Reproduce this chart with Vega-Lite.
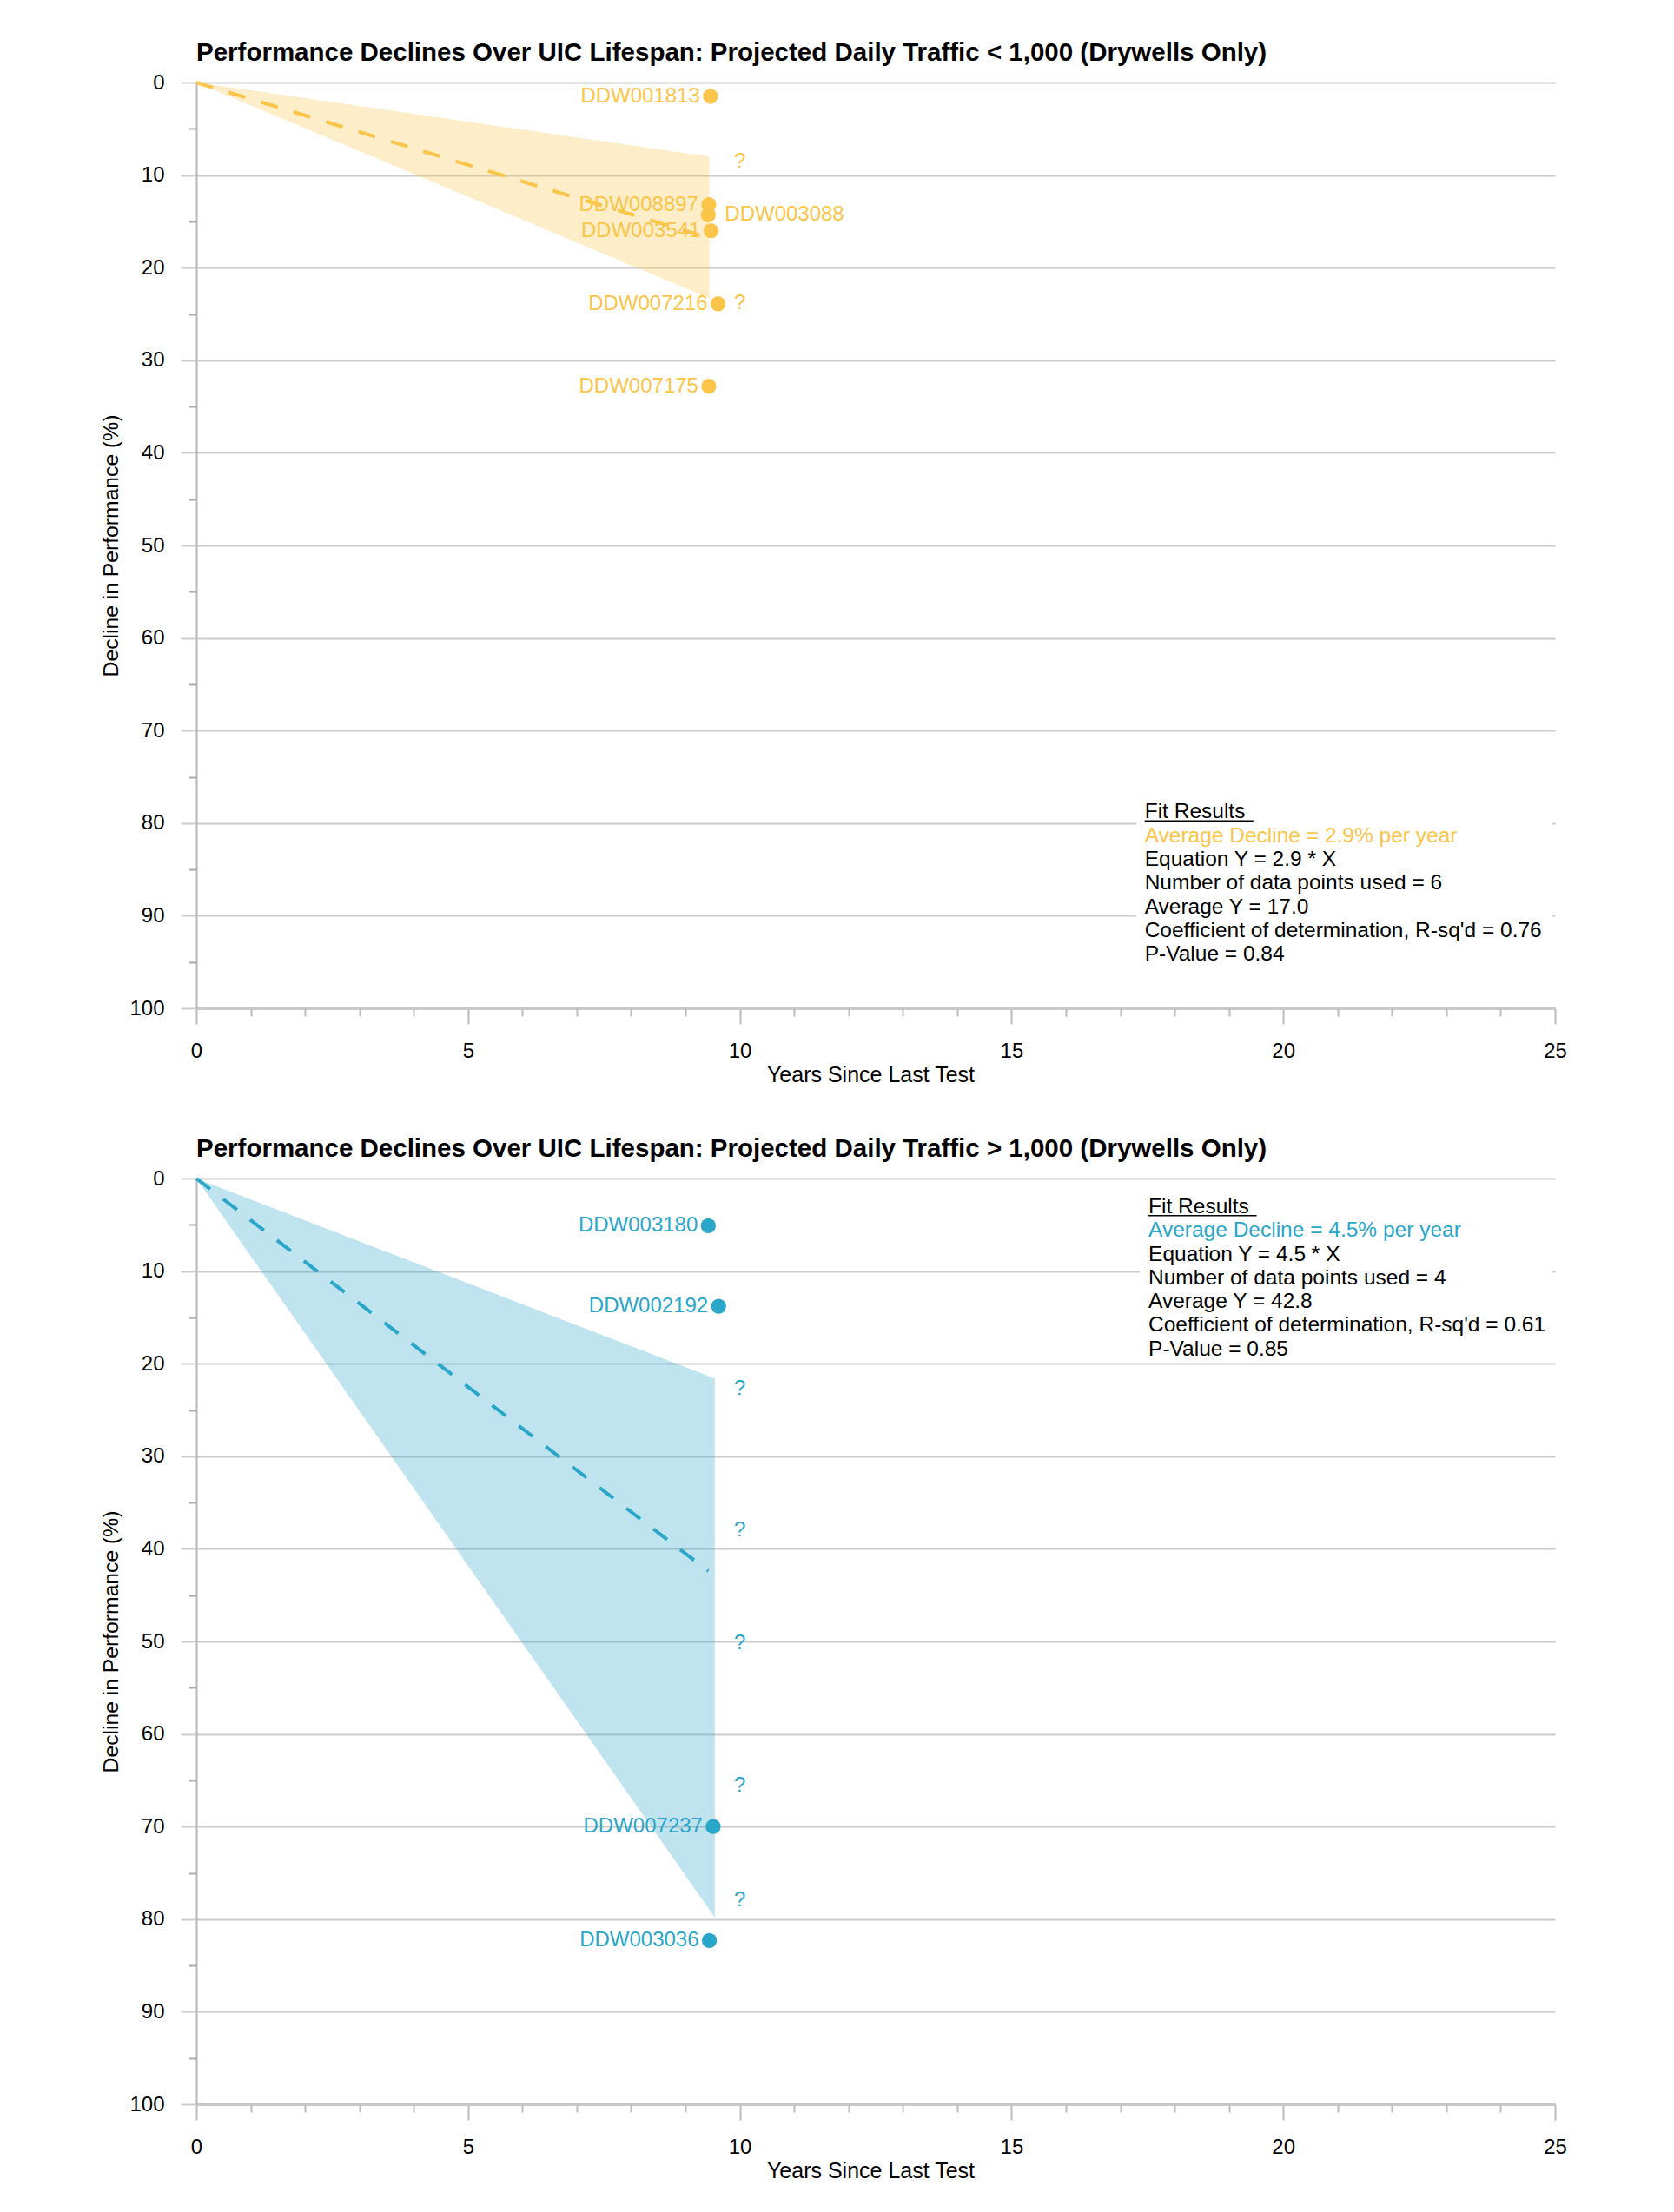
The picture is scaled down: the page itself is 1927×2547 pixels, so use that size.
{
  "$schema": "https://vega.github.io/schema/vega-lite/v6.json",
  "padding": {"left": 115, "top": 45, "right": 5, "bottom": 5},
  "background": "white",
  "config": {
    "font": "Liberation Sans",
    "view": {"stroke": null},
    "axis": {"labelFont": "Liberation Sans", "titleFont": "Liberation Sans", "labelColor": "#000", "titleColor": "#000", "titleFontWeight": "normal"}
  },
  "spacing": 57,
  "datasets": {
    "bandTop": [{"x": 0, "lo": 0, "hi": 0}, {"x": 9.44, "lo": 8.0, "hi": 23.3}],
    "trendTop": [{"x": 0, "y": 0}, {"x": 9.44, "y": 16.8}],
    "ptsTop": [
      {"id": "DDW001813", "x": 9.46, "y": 1.5, "side": "left"},
      {"id": "DDW008897", "x": 9.43, "y": 13.2, "side": "left"},
      {"id": "DDW003088", "x": 9.42, "y": 14.3, "side": "right"},
      {"id": "DDW003541", "x": 9.47, "y": 16.0, "side": "left"},
      {"id": "DDW007216", "x": 9.6, "y": 23.9, "side": "left"},
      {"id": "DDW007175", "x": 9.43, "y": 32.8, "side": "left"}
    ],
    "qTop": [{"x": 10, "y": 8.5}, {"x": 10, "y": 23.8}],
    "boxTop": [{"x": 17.3, "x2": 24.95, "y": 77.5, "y2": 96}],
    "fitTop": [{"x": 17.45, "y": 79.5}],
    "ulTop": [{"x": 17.45, "x2": 19.45, "y": 79.75}],
    "bandBot": [{"x": 0, "lo": 0, "hi": 0}, {"x": 9.54, "lo": 21.6, "hi": 79.8}],
    "trendBot": [{"x": 0, "y": 0}, {"x": 9.42, "y": 42.4}],
    "ptsBot": [
      {"id": "DDW003180", "x": 9.42, "y": 5.1, "side": "left"},
      {"id": "DDW002192", "x": 9.61, "y": 13.8, "side": "left"},
      {"id": "DDW007237", "x": 9.51, "y": 70.0, "side": "left"},
      {"id": "DDW003036", "x": 9.44, "y": 82.3, "side": "left"}
    ],
    "qBot": [{"x": 10, "y": 22.7}, {"x": 10, "y": 38.0}, {"x": 10, "y": 50.2}, {"x": 10, "y": 65.6}, {"x": 10, "y": 78.0}],
    "boxBot": [{"x": 17.36, "x2": 24.95, "y": 1.0, "y2": 19.6}],
    "fitBot": [{"x": 17.52, "y": 3.75}],
    "ulBot": [{"x": 17.52, "x2": 19.51, "y": 4.0}]
  },
  "vconcat": [
    {
      "width": 1564,
      "height": 1066,
      "title": {"text": "Performance Declines Over UIC Lifespan: Projected Daily Traffic < 1,000 (Drywells Only)", "anchor": "start", "frame": "group", "fontSize": 29.5, "fontWeight": "bold", "font": "Liberation Sans", "color": "#000", "offset": 7},
      "resolve": {"axis": {"x": "independent", "y": "independent"}},
      "layer": [
        {
          "data": {"name": "boxTop"},
          "mark": {"type": "rect", "fill": "white", "strokeWidth": 0},
          "encoding": {
            "x": {"field": "x", "type": "quantitative", "scale": {"domain": [0, 25], "nice": false, "zero": false}, "axis": null},
            "x2": {"field": "x2"},
            "y": {"field": "y", "type": "quantitative", "scale": {"domain": [0, 100], "reverse": true, "nice": false}, "axis": null},
            "y2": {"field": "y2"}
          }
        },
        {
          "data": {"name": "bandTop"},
          "mark": {"type": "area", "color": "#FAC548", "opacity": 0.3},
          "encoding": {
            "x": {"field": "x", "type": "quantitative", "scale": {"domain": [0, 25], "nice": false, "zero": false},
              "axis": {"values": [0, 5, 10, 15, 20, 25], "orient": "bottom", "title": "Years Since Last Test", "titleX": 776, "titleFontSize": 25, "titlePadding": 3, "labelFontSize": 24, "labelPadding": 19, "tickSize": 18, "tickColor": "#bbb", "tickWidth": 2, "domainColor": "#c8c8c8", "domainWidth": 3, "grid": false, "labelFlush": false, "labelOverlap": false}},
            "y": {"field": "lo", "type": "quantitative", "scale": {"domain": [0, 100], "reverse": true, "nice": false},
              "axis": {"values": [0, 10, 20, 30, 40, 50, 60, 70, 80, 90, 100], "orient": "left", "title": "Decline in Performance (%)", "titleFontSize": 24.7, "titlePadding": 8, "labelFontSize": 24, "labelPadding": 19, "tickSize": 18, "tickColor": "#ccc", "tickWidth": 2, "domainColor": "#b8b8b8", "domainWidth": 2, "grid": true, "gridColor": "#ccc", "gridWidth": 2, "labelFlush": false, "labelOverlap": false}},
            "y2": {"field": "hi"}
          }
        },
        {
          "data": {"name": "trendTop"},
          "mark": {"type": "line", "color": "#FAC548", "strokeWidth": 4, "strokeDash": [20, 19]},
          "encoding": {
            "x": {"field": "x", "type": "quantitative", "scale": {"domain": [0, 25], "nice": false, "zero": false},
              "axis": {"values": [1, 2, 3, 4, 6, 7, 8, 9, 11, 12, 13, 14, 16, 17, 18, 19, 21, 22, 23, 24], "orient": "bottom", "title": null, "labels": false, "domain": false, "grid": false, "tickSize": 9, "tickColor": "#bbb", "tickWidth": 2}},
            "y": {"field": "y", "type": "quantitative", "scale": {"domain": [0, 100], "reverse": true, "nice": false},
              "axis": {"values": [5, 15, 25, 35, 45, 55, 65, 75, 85, 95], "orient": "left", "title": null, "labels": false, "domain": false, "grid": false, "tickSize": 9, "tickColor": "#aaa", "tickWidth": 2}}
          }
        },
        {
          "data": {"name": "ptsTop"},
          "mark": {"type": "circle", "color": "#FAC548", "size": 300, "opacity": 1},
          "encoding": {
            "x": {"field": "x", "type": "quantitative", "scale": {"domain": [0, 25], "nice": false, "zero": false}, "axis": null},
            "y": {"field": "y", "type": "quantitative", "scale": {"domain": [0, 100], "reverse": true, "nice": false}, "axis": null}
          }
        },
        {
          "data": {"name": "ptsTop"},
          "transform": [{"filter": {"field": "side", "equal": "left"}}],
          "mark": {"type": "text", "color": "#FAC548", "align": "right", "baseline": "middle", "dx": -12, "fontSize": 24},
          "encoding": {
            "x": {"field": "x", "type": "quantitative", "scale": {"domain": [0, 25], "nice": false, "zero": false}, "axis": null},
            "y": {"field": "y", "type": "quantitative", "scale": {"domain": [0, 100], "reverse": true, "nice": false}, "axis": null},
            "text": {"field": "id"}
          }
        },
        {
          "data": {"name": "ptsTop"},
          "transform": [{"filter": {"field": "side", "equal": "right"}}],
          "mark": {"type": "text", "color": "#FAC548", "align": "left", "baseline": "middle", "dx": 19, "fontSize": 24},
          "encoding": {
            "x": {"field": "x", "type": "quantitative", "scale": {"domain": [0, 25], "nice": false, "zero": false}, "axis": null},
            "y": {"field": "y", "type": "quantitative", "scale": {"domain": [0, 100], "reverse": true, "nice": false}, "axis": null},
            "text": {"field": "id"}
          }
        },
        {
          "data": {"name": "qTop"},
          "mark": {"type": "text", "color": "#FAC548", "align": "center", "baseline": "middle", "fontSize": 24},
          "encoding": {
            "x": {"field": "x", "type": "quantitative", "scale": {"domain": [0, 25], "nice": false, "zero": false}, "axis": null},
            "y": {"field": "y", "type": "quantitative", "scale": {"domain": [0, 100], "reverse": true, "nice": false}, "axis": null},
            "text": {"value": "?"}
          }
        },
        {
          "data": {"name": "fitTop"},
          "mark": {"type": "text", "color": "#000", "align": "left", "baseline": "alphabetic", "fontSize": 24.5},
          "encoding": {
            "x": {"field": "x", "type": "quantitative", "scale": {"domain": [0, 25], "nice": false, "zero": false}, "axis": null},
            "y": {"field": "y", "type": "quantitative", "scale": {"domain": [0, 100], "reverse": true, "nice": false}, "axis": null},
            "text": {"value": "Fit Results "}
          }
        },
        {
          "data": {"name": "fitTop"},
          "mark": {"type": "text", "color": "#FAC548", "align": "left", "baseline": "alphabetic", "fontSize": 24.5, "dy": 27.3},
          "encoding": {
            "x": {"field": "x", "type": "quantitative", "scale": {"domain": [0, 25], "nice": false, "zero": false}, "axis": null},
            "y": {"field": "y", "type": "quantitative", "scale": {"domain": [0, 100], "reverse": true, "nice": false}, "axis": null},
            "text": {"value": "Average Decline = 2.9% per year"}
          }
        },
        {
          "data": {"name": "fitTop"},
          "mark": {"type": "text", "color": "#000", "align": "left", "baseline": "alphabetic", "fontSize": 24.5, "lineHeight": 27.3, "dy": 54.6},
          "encoding": {
            "x": {"field": "x", "type": "quantitative", "scale": {"domain": [0, 25], "nice": false, "zero": false}, "axis": null},
            "y": {"field": "y", "type": "quantitative", "scale": {"domain": [0, 100], "reverse": true, "nice": false}, "axis": null},
            "text": {"value": ["Equation Y = 2.9 * X", "Number of data points used = 6", "Average Y = 17.0", "Coefficient of determination, R-sq'd = 0.76", "P-Value = 0.84"]}
          }
        },
        {
          "data": {"name": "ulTop"},
          "mark": {"type": "rule", "color": "#000", "strokeWidth": 1.5},
          "encoding": {
            "x": {"field": "x", "type": "quantitative", "scale": {"domain": [0, 25], "nice": false, "zero": false}, "axis": null},
            "x2": {"field": "x2"},
            "y": {"field": "y", "type": "quantitative", "scale": {"domain": [0, 100], "reverse": true, "nice": false}, "axis": null}
          }
        }
      ]
    },
    {
      "width": 1564,
      "height": 1066,
      "title": {"text": "Performance Declines Over UIC Lifespan: Projected Daily Traffic > 1,000 (Drywells Only)", "anchor": "start", "frame": "group", "fontSize": 29.5, "fontWeight": "bold", "font": "Liberation Sans", "color": "#000", "offset": 7},
      "resolve": {"axis": {"x": "independent", "y": "independent"}},
      "layer": [
        {
          "data": {"name": "boxBot"},
          "mark": {"type": "rect", "fill": "white", "strokeWidth": 0},
          "encoding": {
            "x": {"field": "x", "type": "quantitative", "scale": {"domain": [0, 25], "nice": false, "zero": false}, "axis": null},
            "x2": {"field": "x2"},
            "y": {"field": "y", "type": "quantitative", "scale": {"domain": [0, 100], "reverse": true, "nice": false}, "axis": null},
            "y2": {"field": "y2"}
          }
        },
        {
          "data": {"name": "bandBot"},
          "mark": {"type": "area", "color": "#2AA6C9", "opacity": 0.3},
          "encoding": {
            "x": {"field": "x", "type": "quantitative", "scale": {"domain": [0, 25], "nice": false, "zero": false},
              "axis": {"values": [0, 5, 10, 15, 20, 25], "orient": "bottom", "title": "Years Since Last Test", "titleX": 776, "titleFontSize": 25, "titlePadding": 3, "labelFontSize": 24, "labelPadding": 19, "tickSize": 18, "tickColor": "#bbb", "tickWidth": 2, "domainColor": "#c8c8c8", "domainWidth": 3, "grid": false, "labelFlush": false, "labelOverlap": false}},
            "y": {"field": "lo", "type": "quantitative", "scale": {"domain": [0, 100], "reverse": true, "nice": false},
              "axis": {"values": [0, 10, 20, 30, 40, 50, 60, 70, 80, 90, 100], "orient": "left", "title": "Decline in Performance (%)", "titleFontSize": 24.7, "titlePadding": 8, "labelFontSize": 24, "labelPadding": 19, "tickSize": 18, "tickColor": "#ccc", "tickWidth": 2, "domainColor": "#b8b8b8", "domainWidth": 2, "grid": true, "gridColor": "#ccc", "gridWidth": 2, "labelFlush": false, "labelOverlap": false}},
            "y2": {"field": "hi"}
          }
        },
        {
          "data": {"name": "trendBot"},
          "mark": {"type": "line", "color": "#2AA6C9", "strokeWidth": 4, "strokeDash": [20, 19]},
          "encoding": {
            "x": {"field": "x", "type": "quantitative", "scale": {"domain": [0, 25], "nice": false, "zero": false},
              "axis": {"values": [1, 2, 3, 4, 6, 7, 8, 9, 11, 12, 13, 14, 16, 17, 18, 19, 21, 22, 23, 24], "orient": "bottom", "title": null, "labels": false, "domain": false, "grid": false, "tickSize": 9, "tickColor": "#bbb", "tickWidth": 2}},
            "y": {"field": "y", "type": "quantitative", "scale": {"domain": [0, 100], "reverse": true, "nice": false},
              "axis": {"values": [5, 15, 25, 35, 45, 55, 65, 75, 85, 95], "orient": "left", "title": null, "labels": false, "domain": false, "grid": false, "tickSize": 9, "tickColor": "#aaa", "tickWidth": 2}}
          }
        },
        {
          "data": {"name": "ptsBot"},
          "mark": {"type": "circle", "color": "#2AA6C9", "size": 300, "opacity": 1},
          "encoding": {
            "x": {"field": "x", "type": "quantitative", "scale": {"domain": [0, 25], "nice": false, "zero": false}, "axis": null},
            "y": {"field": "y", "type": "quantitative", "scale": {"domain": [0, 100], "reverse": true, "nice": false}, "axis": null}
          }
        },
        {
          "data": {"name": "ptsBot"},
          "mark": {"type": "text", "color": "#2AA6C9", "align": "right", "baseline": "middle", "dx": -12, "fontSize": 24},
          "encoding": {
            "x": {"field": "x", "type": "quantitative", "scale": {"domain": [0, 25], "nice": false, "zero": false}, "axis": null},
            "y": {"field": "y", "type": "quantitative", "scale": {"domain": [0, 100], "reverse": true, "nice": false}, "axis": null},
            "text": {"field": "id"}
          }
        },
        {
          "data": {"name": "qBot"},
          "mark": {"type": "text", "color": "#2AA6C9", "align": "center", "baseline": "middle", "fontSize": 24},
          "encoding": {
            "x": {"field": "x", "type": "quantitative", "scale": {"domain": [0, 25], "nice": false, "zero": false}, "axis": null},
            "y": {"field": "y", "type": "quantitative", "scale": {"domain": [0, 100], "reverse": true, "nice": false}, "axis": null},
            "text": {"value": "?"}
          }
        },
        {
          "data": {"name": "fitBot"},
          "mark": {"type": "text", "color": "#000", "align": "left", "baseline": "alphabetic", "fontSize": 24.5},
          "encoding": {
            "x": {"field": "x", "type": "quantitative", "scale": {"domain": [0, 25], "nice": false, "zero": false}, "axis": null},
            "y": {"field": "y", "type": "quantitative", "scale": {"domain": [0, 100], "reverse": true, "nice": false}, "axis": null},
            "text": {"value": "Fit Results "}
          }
        },
        {
          "data": {"name": "fitBot"},
          "mark": {"type": "text", "color": "#2AA6C9", "align": "left", "baseline": "alphabetic", "fontSize": 24.5, "dy": 27.3},
          "encoding": {
            "x": {"field": "x", "type": "quantitative", "scale": {"domain": [0, 25], "nice": false, "zero": false}, "axis": null},
            "y": {"field": "y", "type": "quantitative", "scale": {"domain": [0, 100], "reverse": true, "nice": false}, "axis": null},
            "text": {"value": "Average Decline = 4.5% per year"}
          }
        },
        {
          "data": {"name": "fitBot"},
          "mark": {"type": "text", "color": "#000", "align": "left", "baseline": "alphabetic", "fontSize": 24.5, "lineHeight": 27.3, "dy": 54.6},
          "encoding": {
            "x": {"field": "x", "type": "quantitative", "scale": {"domain": [0, 25], "nice": false, "zero": false}, "axis": null},
            "y": {"field": "y", "type": "quantitative", "scale": {"domain": [0, 100], "reverse": true, "nice": false}, "axis": null},
            "text": {"value": ["Equation Y = 4.5 * X", "Number of data points used = 4", "Average Y = 42.8", "Coefficient of determination, R-sq'd = 0.61", "P-Value = 0.85"]}
          }
        },
        {
          "data": {"name": "ulBot"},
          "mark": {"type": "rule", "color": "#000", "strokeWidth": 1.5},
          "encoding": {
            "x": {"field": "x", "type": "quantitative", "scale": {"domain": [0, 25], "nice": false, "zero": false}, "axis": null},
            "x2": {"field": "x2"},
            "y": {"field": "y", "type": "quantitative", "scale": {"domain": [0, 100], "reverse": true, "nice": false}, "axis": null}
          }
        }
      ]
    }
  ]
}
